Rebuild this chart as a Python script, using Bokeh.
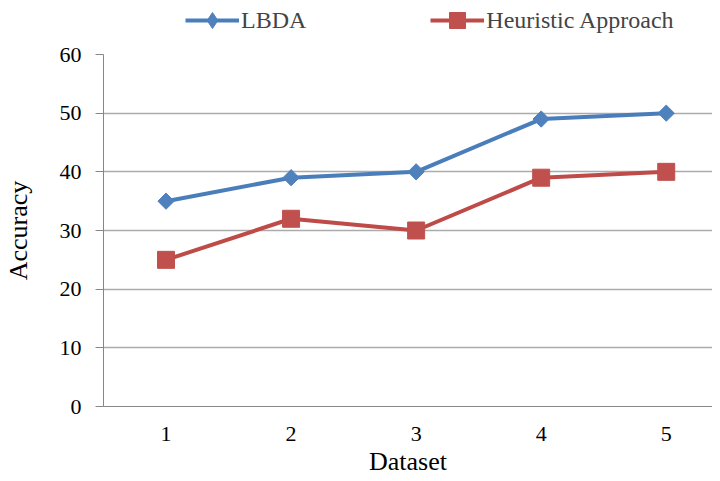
import math
from bokeh.plotting import figure
from bokeh.layouts import column
from bokeh.models import Legend, LegendItem, FixedTicker, Range1d
from bokeh.embed import file_html
from bokeh.resources import INLINE

datasets = [1, 2, 3, 4, 5]
lbda = [35, 39, 40, 49, 50]
heuristic = [25, 32, 30, 39, 40]
y_ticks = [0, 10, 20, 30, 40, 50, 60]
series_names = ["LBDA", "Heuristic Approach"]

FONT = "Liberation Serif"
BLUE = "#4A7EBB"
BLUE_M = "#4F81BD"
RED = "#BE4B48"
RED_M = "#C0504D"


def draw_series(fig, legend_style=False):
    l1 = fig.line(datasets, lbda, line_color=BLUE, line_width=4)
    if legend_style:
        m1 = fig.scatter(datasets, lbda, marker="diamond", size=18,
                         fill_color=BLUE_M, line_color=BLUE_M)
    else:
        m1 = fig.scatter(datasets, lbda, marker="square", angle=math.pi / 4, size=11.5,
                         fill_color=BLUE_M, line_color=BLUE_M)
    l2 = fig.line(datasets, heuristic, line_color=RED, line_width=4)
    m2 = fig.scatter(datasets, heuristic, marker="square", size=17,
                     fill_color=RED_M, line_color=RED_M)
    return l1, m1, l2, m2


# main chart
p = figure(width=712, height=438, output_backend="svg", toolbar_location=None,
           x_range=Range1d(0.5, 5.37), y_range=Range1d(0, 60),
           min_border_left=101, min_border_right=0, min_border_top=14,
           min_border_bottom=70)
p.outline_line_color = None
p.background_fill_color = "white"
p.border_fill_color = "white"
draw_series(p)

p.xgrid.visible = False
p.ygrid.grid_line_color = "#ABABAB"
p.ygrid.grid_line_width = 1.3
p.ygrid.ticker = FixedTicker(ticks=y_ticks)

p.yaxis.ticker = FixedTicker(ticks=y_ticks)
p.xaxis.ticker = FixedTicker(ticks=datasets)
p.yaxis.minor_tick_line_color = None
p.xaxis.minor_tick_line_color = None
p.yaxis.major_tick_out = 8
p.yaxis.major_tick_in = 0
p.xaxis.major_tick_out = 0
p.xaxis.major_tick_in = 0
for ax in (p.xaxis, p.yaxis):
    ax.axis_line_color = "#878787"
    ax.major_tick_line_color = "#878787"
    ax.major_label_text_font = FONT
    ax.major_label_text_font_size = "22px"
    ax.major_label_text_color = "black"
    ax.axis_label_text_font = FONT
    ax.axis_label_text_font_size = "26px"
    ax.axis_label_text_font_style = "normal"
    ax.axis_label_text_color = "black"
p.yaxis.major_label_standoff = 14
p.xaxis.major_label_standoff = 20
p.xaxis.axis_label = "Dataset"
p.yaxis.axis_label = "Accuracy"
p.xaxis.axis_label_standoff = 3
p.yaxis.axis_label_standoff = 24

# legend strip above the chart (its frame is aligned with the chart's frame)
lg = figure(width=712, height=40, output_backend="svg", toolbar_location=None,
            x_range=Range1d(100, 101), y_range=Range1d(100, 101),
            min_border_left=0, min_border_right=0, min_border_top=0,
            min_border_bottom=0)
lg.axis.visible = False
lg.grid.visible = False
lg.outline_line_color = None
lg.background_fill_color = "white"
lg.border_fill_color = "white"
a1, b1, a2, b2 = draw_series(lg, legend_style=True)
legend = Legend(items=[LegendItem(label=series_names[0], renderers=[a1, b1]),
                       LegendItem(label=series_names[1], renderers=[a2, b2])],
                orientation="horizontal", location=(82, 0),
                label_text_font=FONT, label_text_font_size="24px",
                glyph_width=54, glyph_height=40, label_standoff=2, spacing=124,
                padding=0, margin=0, border_line_alpha=0, background_fill_alpha=0)
lg.add_layout(legend, "center")

layout = column(lg, p, spacing=0)
open("out.html", "w").write(file_html(layout, INLINE))
